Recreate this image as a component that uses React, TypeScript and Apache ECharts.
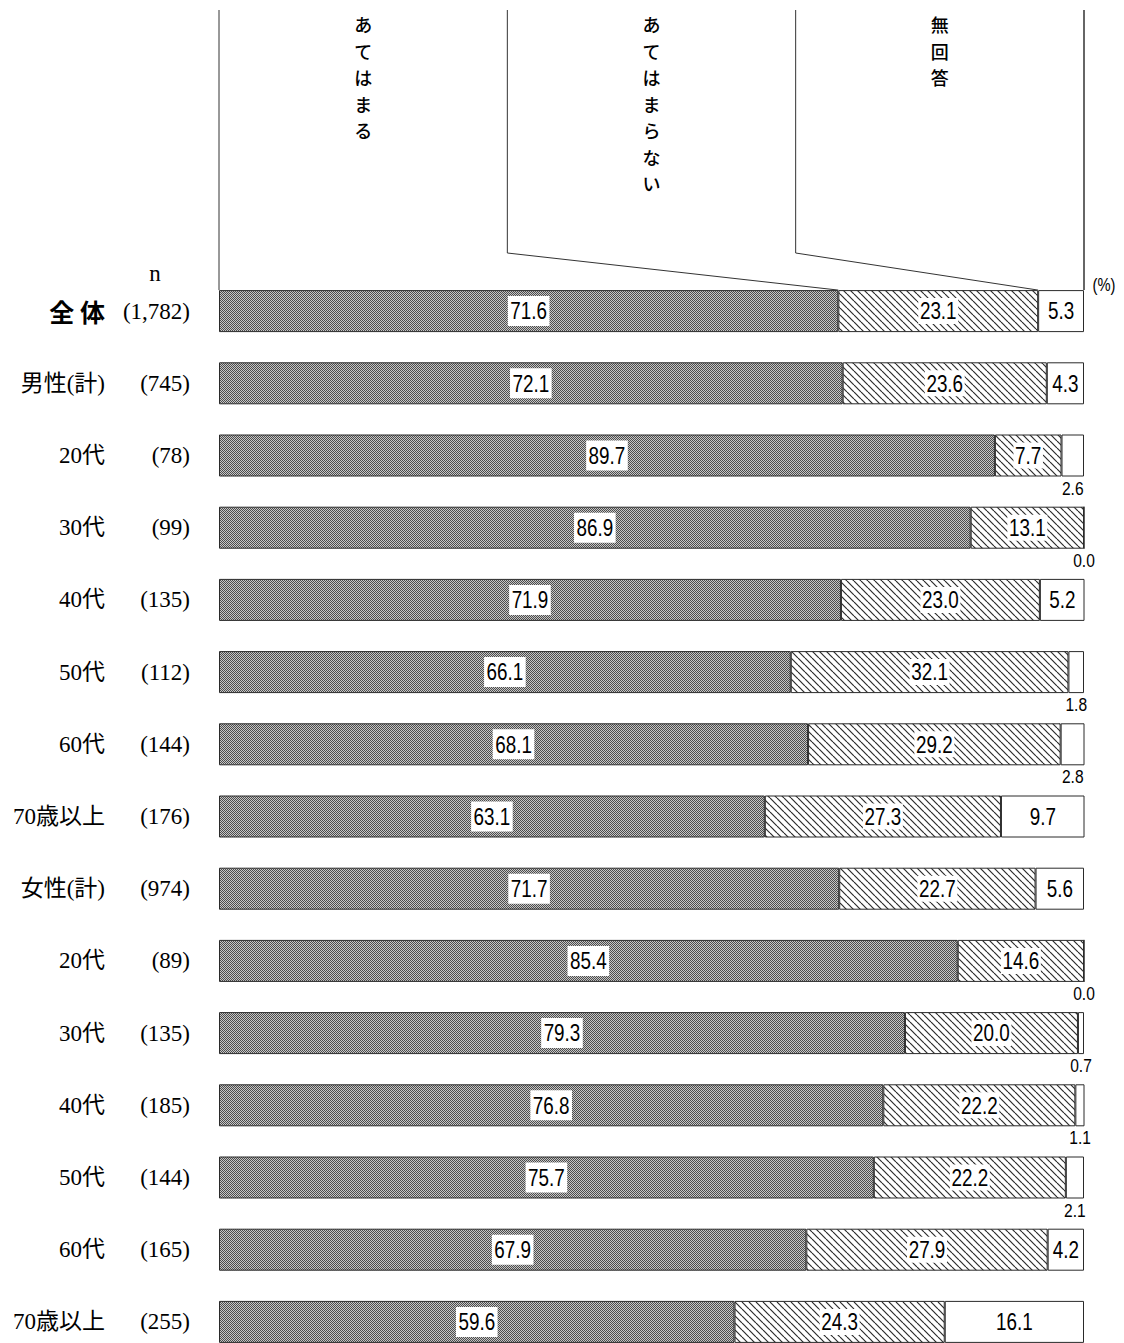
import React, { useEffect, useRef } from 'react';
import * as echarts from 'echarts';

// Row labels (respondent groups) and their sample sizes
const groups = ['全 体', '男性(計)', '20代', '30代', '40代', '50代', '60代', '70歳以上', '女性(計)', '20代', '30代', '40代', '50代', '60代', '70歳以上'];
const sampleSizes = ['1,782', '745', '78', '99', '135', '112', '144', '176', '974', '89', '135', '185', '144', '165', '255'];

// Answer shares (%)
const seriesNames = ['あてはまる', 'あてはまらない', '無回答'];
const applies = [71.6, 72.1, 89.7, 86.9, 71.9, 66.1, 68.1, 63.1, 71.7, 85.4, 79.3, 76.8, 75.7, 67.9, 59.6];
const notApplies = [23.1, 23.6, 7.7, 13.1, 23.0, 32.1, 29.2, 27.3, 22.7, 14.6, 20.0, 22.2, 22.2, 27.9, 24.3];
const noAnswer = [5.3, 4.3, 2.6, 0.0, 5.2, 1.8, 2.8, 9.7, 5.6, 0.0, 0.7, 1.1, 2.1, 4.2, 16.1];

const SANS = '"Liberation Sans", Arial, sans-serif';
const SERIF = '"Liberation Serif", "Noto Sans CJK JP", serif';
const GOTHIC = '"Noto Sans CJK JP", sans-serif';
// value labels use a condensed look
const NARROW_SCALE = 0.82;

function checkerTile(): HTMLCanvasElement {
  const c = document.createElement('canvas');
  c.width = 4;
  c.height = 4;
  const ctx = c.getContext('2d')!;
  ctx.fillStyle = '#c6c6c6';
  ctx.fillRect(0, 0, 4, 4);
  ctx.fillStyle = '#4c4c4c';
  for (let y = 0; y < 4; y++) {
    for (let x = 0; x < 4; x++) {
      if ((x + y) % 2 === 0) ctx.fillRect(x, y, 1, 1);
    }
  }
  return c;
}

function hatchTile(): HTMLCanvasElement {
  const s = 7;
  const c = document.createElement('canvas');
  c.width = s;
  c.height = s;
  const ctx = c.getContext('2d')!;
  ctx.fillStyle = '#ffffff';
  ctx.fillRect(0, 0, s, s);
  ctx.strokeStyle = '#2a2a2a';
  ctx.lineWidth = 1.15;
  for (const k of [-s, 0, s]) {
    ctx.beginPath();
    ctx.moveTo(k, 0);
    ctx.lineTo(k + s, s);
    ctx.stroke();
  }
  return c;
}

const catKey = (i: number) => `${i}:${groups[i]}`;

export default function App() {
  const ref = useRef<HTMLDivElement>(null);

  useEffect(() => {
    if (!ref.current) return;
    const chart = echarts.init(ref.current, null, { renderer: 'svg' });

    const barBorder = { borderColor: '#2a2a2a', borderWidth: 1 };
    const BAR_W = 42;

    const option: any = {
      animation: false,
      backgroundColor: '#ffffff',
      grid: {
        left: 219,
        top: 275,
        width: 865,
        height: 1083,
        containLabel: false,
        outerBoundsMode: 'none',
      },
      xAxis: { type: 'value', min: 0, max: 100, show: false },
      yAxis: {
        type: 'category',
        inverse: true,
        data: groups.map((_, i) => catKey(i)),
        axisLine: { show: false },
        axisTick: { show: false },
        splitLine: { show: false },
        axisLabel: {
          interval: 0,
          margin: 29,
          formatter: (v: string) => {
            const i = Number(v.split(':')[0]);
            const key = i === 0 ? 'tot' : 'nm';
            return `{${key}|${groups[i]}}{n|(${sampleSizes[i]})}`;
          },
          rich: {
            nm: { fontFamily: SERIF, fontSize: 23, width: 100, align: 'right', color: '#000' },
            tot: { fontFamily: GOTHIC, fontSize: 25, fontWeight: 'bold', width: 105, align: 'right', color: '#000' },
            n: { fontFamily: SERIF, fontSize: 23, width: 85, align: 'right', color: '#000' },
          },
        },
      },
      series: [
        {
          name: seriesNames[0],
          type: 'bar',
          stack: 'total',
          barWidth: BAR_W,
          data: applies,
          itemStyle: { color: { image: checkerTile(), repeat: 'repeat' }, ...barBorder },
        },
        {
          name: seriesNames[1],
          type: 'bar',
          stack: 'total',
          barWidth: BAR_W,
          data: notApplies,
          itemStyle: { color: { image: hatchTile(), repeat: 'repeat' }, ...barBorder },
        },
        {
          name: seriesNames[2],
          type: 'bar',
          stack: 'total',
          barWidth: BAR_W,
          data: noAnswer,
          itemStyle: { color: '#ffffff', ...barBorder },
        },
      ],
    };

    chart.setOption(option);

    const xAt = (v: number) => chart.convertToPixel({ xAxisIndex: 0 }, v) as number;
    const yAt = (i: number) => chart.convertToPixel({ yAxisIndex: 0 }, catKey(i)) as number;

    const graphic: any[] = [];

    // Value labels, placed at each segment's centre
    const stacks = [applies, notApplies, noAnswer];
    groups.forEach((_, i) => {
      let cum = 0;
      stacks.forEach((vals, s) => {
        const v = vals[i];
        const cx = xAt(cum + v / 2);
        cum += v;
        const cy = yAt(i);
        const text = v.toFixed(1);
        if (s < 2) {
          graphic.push({
            type: 'text',
            x: cx,
            y: cy,
            scaleX: NARROW_SCALE,
            z: 10,
            style: {
              text,
              fontFamily: SANS,
              fontSize: 23,
              align: 'center',
              verticalAlign: 'middle',
              fill: '#000',
              backgroundColor: '#fff',
              padding: s === 0 ? [4, 3, 3, 3] : [2, 2, 1, 2],
            },
          });
        } else if (v >= 4) {
          graphic.push({
            type: 'text',
            x: cx,
            y: cy,
            scaleX: NARROW_SCALE,
            z: 10,
            style: { text, fontFamily: SANS, fontSize: 23, align: 'center', verticalAlign: 'middle', fill: '#000' },
          });
        } else {
          graphic.push({
            type: 'text',
            x: cx,
            y: cy + BAR_W / 2 + 2,
            scaleX: NARROW_SCALE,
            z: 10,
            style: { text, fontFamily: SANS, fontSize: 19, align: 'center', verticalAlign: 'top', fill: '#000' },
          });
        }
      });
    });

    // Header: column dividers with connectors to the first row's segment boundaries
    const rowTop = yAt(0) - BAR_W / 2;
    const left = xAt(0);
    const right = xAt(100);
    const colW = (right - left) / 3;
    const headTop = 10;
    const elbow = 253;
    const b1 = xAt(applies[0]);
    const b2 = xAt(applies[0] + notApplies[0]);
    const lineStyle = { stroke: '#333', lineWidth: 1, fill: null };

    graphic.push(
      { type: 'polyline', shape: { points: [[left, headTop], [left, rowTop]] }, style: lineStyle },
      { type: 'polyline', shape: { points: [[left + colW, headTop], [left + colW, elbow], [b1, rowTop]] }, style: lineStyle },
      { type: 'polyline', shape: { points: [[left + 2 * colW, headTop], [left + 2 * colW, elbow], [b2, rowTop]] }, style: lineStyle },
      { type: 'polyline', shape: { points: [[right, headTop], [right, rowTop]] }, style: { ...lineStyle, lineWidth: 1.5 } }
    );

    // Column headings, written top to bottom
    seriesNames.forEach((name, k) => {
      name.split('').forEach((ch, j) => {
        graphic.push({
          type: 'text',
          x: left + colW * (k + 0.5),
          y: 15 + j * 26.5,
          style: {
            text: ch,
            fontFamily: GOTHIC,
            fontSize: 18,
            fontWeight: 500,
            align: 'center',
            verticalAlign: 'top',
            fill: '#000',
          },
        });
      });
    });

    graphic.push({
      type: 'text',
      x: 155,
      y: 273,
      style: { text: 'n', fontFamily: SERIF, fontSize: 23, align: 'center', verticalAlign: 'middle', fill: '#000' },
    });
    graphic.push({
      type: 'text',
      x: right + 20,
      y: 284,
      scaleX: NARROW_SCALE,
      style: { text: '(%)', fontFamily: SANS, fontSize: 18, align: 'center', verticalAlign: 'middle', fill: '#000' },
    });

    chart.setOption({ graphic });

    return () => chart.dispose();
  }, []);

  return (
    <div
      ref={ref}
      style={{ position: 'absolute', left: 0, top: 0, width: 1124, height: 1343, background: '#fff' }}
    />
  );
}
